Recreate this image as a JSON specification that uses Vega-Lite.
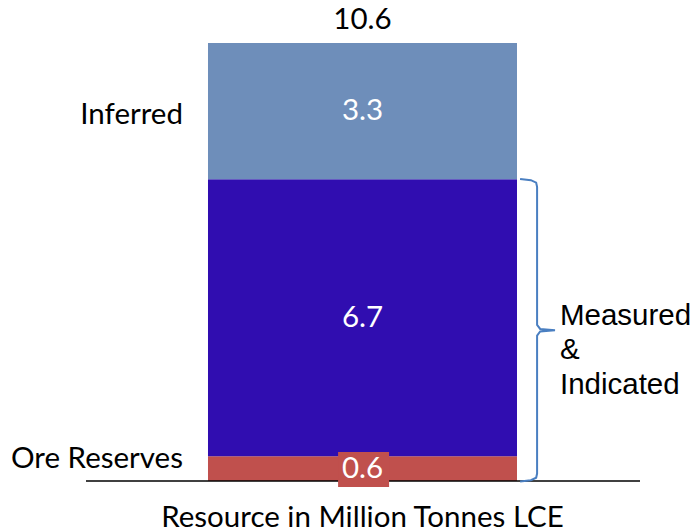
{
  "$schema": "https://vega.github.io/schema/vega-lite/v6.json",
  "width": 694,
  "height": 532,
  "padding": 0,
  "autosize": {"type": "none"},
  "background": "white",
  "config": {"view": {"stroke": null}},
  "datasets": {
    "bars": [
      {"category": "Ore Reserves", "start": 0, "end": 0.6, "value": 0.6, "x0": 0, "x1": 1, "mid": 0.3},
      {"category": "Measured & Indicated", "start": 0.6, "end": 7.3, "value": 6.7, "x0": 0, "x1": 1, "mid": 3.95},
      {"category": "Inferred", "start": 7.3, "end": 10.6, "value": 3.3, "x0": 0, "x1": 1, "mid": 8.95}
    ],
    "brace": [
      {"o": 1, "x": 1.010, "y": 7.31},
      {"o": 2, "x": 1.045, "y": 7.28},
      {"o": 3, "x": 1.062, "y": 7.22},
      {"o": 4, "x": 1.065, "y": 7.12},
      {"o": 5, "x": 1.065, "y": 3.78},
      {"o": 6, "x": 1.075, "y": 3.68},
      {"o": 7, "x": 1.123, "y": 3.65},
      {"o": 8, "x": 1.075, "y": 3.62},
      {"o": 9, "x": 1.065, "y": 3.52},
      {"o": 10, "x": 1.065, "y": 0.18},
      {"o": 11, "x": 1.062, "y": 0.08},
      {"o": 12, "x": 1.045, "y": 0.02},
      {"o": 13, "x": 1.010, "y": -0.01}
    ]
  },
  "layer": [
    {
      "data": {"name": "bars"},
      "mark": {"type": "rect"},
      "encoding": {
        "x": {"field": "x0", "type": "quantitative", "scale": {"domain": [-0.6731, 1.5728], "nice": false, "zero": false}, "axis": null},
        "x2": {"field": "x1"},
        "y": {"field": "start", "type": "quantitative", "scale": {"domain": [-1.234, 11.641], "nice": false, "zero": false}, "axis": null},
        "y2": {"field": "end"},
        "color": {"field": "category", "type": "nominal", "legend": null,
          "scale": {"domain": ["Ore Reserves", "Measured & Indicated", "Inferred"], "range": ["#c0504d", "#300db0", "#6e8eba"]}}
      }
    },
    {
      "data": {"values": [{"x0": -0.3948, "x1": 1.3981, "y": 0}]},
      "mark": {"type": "rule", "color": "#000000", "strokeWidth": 1.5},
      "encoding": {
        "x": {"field": "x0", "type": "quantitative"},
        "x2": {"field": "x1"},
        "y": {"field": "y", "type": "quantitative"}
      }
    },
    {
      "data": {"values": [{"x0": 0.421, "x1": 0.586, "y0": 0.70, "y1": -0.145}]},
      "mark": {"type": "rect", "color": "#c0504d"},
      "encoding": {
        "x": {"field": "x0", "type": "quantitative"},
        "x2": {"field": "x1"},
        "y": {"field": "y0", "type": "quantitative"},
        "y2": {"field": "y1"}
      }
    },
    {
      "data": {"name": "bars"},
      "mark": {"type": "text", "color": "white", "font": "Lato", "fontSize": 29.5, "baseline": "middle", "align": "center"},
      "encoding": {
        "x": {"datum": 0.5, "type": "quantitative"},
        "y": {"field": "mid", "type": "quantitative"},
        "text": {"field": "value", "type": "quantitative", "format": ".1f"}
      }
    },
    {
      "data": {"values": [{"label": "Inferred", "y": 8.86}, {"label": "Ore Reserves", "y": 0.53}]},
      "mark": {"type": "text", "color": "black", "font": "Lato", "fontSize": 29.5, "baseline": "middle", "align": "right"},
      "encoding": {
        "x": {"datum": -0.081, "type": "quantitative"},
        "y": {"field": "y", "type": "quantitative"},
        "text": {"field": "label"}
      }
    },
    {
      "data": {"values": [{"label": "10.6", "y": 11.15}, {"label": "Resource in Million Tonnes LCE", "y": -0.9}]},
      "mark": {"type": "text", "color": "black", "font": "Lato", "fontSize": 29.5, "baseline": "middle", "align": "center"},
      "encoding": {
        "x": {"datum": 0.5, "type": "quantitative"},
        "y": {"field": "y", "type": "quantitative"},
        "text": {"field": "label"}
      }
    },
    {
      "data": {"values": [{"label": ["Measured", "&", "Indicated"], "y": 4.0}]},
      "mark": {"type": "text", "color": "black", "font": "Liberation Sans", "fontSize": 29.5, "baseline": "middle", "align": "left", "lineHeight": 34.5},
      "encoding": {
        "x": {"datum": 1.139, "type": "quantitative"},
        "y": {"field": "y", "type": "quantitative"},
        "text": {"field": "label"}
      }
    },
    {
      "data": {"name": "brace"},
      "mark": {"type": "line", "color": "#4a7fc1", "strokeWidth": 2, "interpolate": "linear"},
      "encoding": {
        "x": {"field": "x", "type": "quantitative"},
        "y": {"field": "y", "type": "quantitative"},
        "order": {"field": "o"}
      }
    }
  ]
}
